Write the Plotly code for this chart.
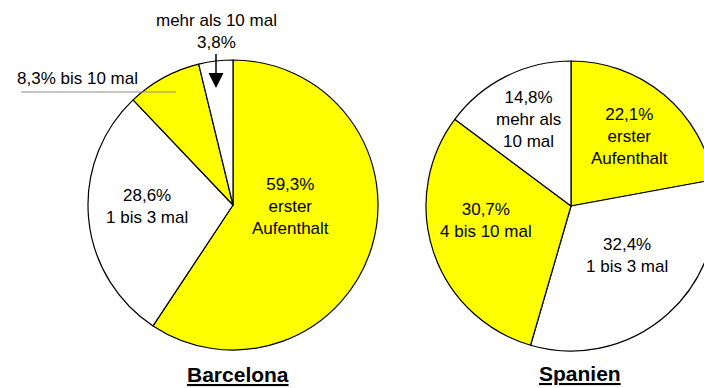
import plotly.graph_objects as go

# Anzahl der Aufenthalte – Anteile in %
categories = ["erster Aufenthalt", "1 bis 3 mal", "4 bis 10 mal", "mehr als 10 mal"]
barcelona_values = [59.3, 28.6, 8.3, 3.8]

spanien_categories = ["erster Aufenthalt", "1 bis 3 mal", "4 bis 10 mal", "mehr als 10 mal"]
spanien_values = [22.1, 32.4, 30.7, 14.8]

# Slice label texts (line breaks for display)
barcelona_text_names = ["erster<br>Aufenthalt", "1 bis 3 mal", "bis 10 mal", "mehr als 10 mal"]
spanien_text_names = ["erster<br>Aufenthalt", "1 bis 3 mal", "4 bis 10 mal", "mehr als<br>10 mal"]

titles = ["Barcelona", "Spanien"]

YELLOW = "#FFFF00"
WHITE = "#FFFFFF"
slice_colors = [YELLOW, WHITE, YELLOW, WHITE]

FONT = "Liberation Sans, Arial, sans-serif"
W, H = 720, 388  # canvas slightly wider than the view so the right pie runs off the edge

# label anchor points (pixels) for the slice labels drawn inside the pies
barcelona_label_pos = [(290, 206), (147, 206)]
spanien_label_pos = [(629, 136), (627, 255), (486, 220), (528, 119)]


def fx(px):
    return px / W


def fy(py):
    return 1 - py / H


def pct(v):
    return f"{v:.1f}".replace(".", ",") + "%"


def pie(values, labels, domain_px):
    x0, x1, y0, y1 = domain_px
    return go.Pie(
        values=values,
        labels=labels,
        textinfo="none",
        marker=dict(colors=slice_colors, line=dict(color="black", width=1.2)),
        sort=False,
        direction="clockwise",
        rotation=0,
        hoverinfo="skip",
        domain=dict(x=[fx(x0), fx(x1)], y=[fy(y1), fy(y0)]),
        showlegend=False,
    )


fig = go.Figure()
fig.add_trace(pie(barcelona_values, categories, (88, 378, 60, 350)))
fig.add_trace(pie(spanien_values, spanien_categories, (426, 716, 61, 351)))

label_font = dict(family=FONT, size=17, color="black")

annotations = []


def inside_label(value, name, pos):
    annotations.append(dict(
        x=fx(pos[0]), y=fy(pos[1]), xref="paper", yref="paper",
        xanchor="center", yanchor="middle",
        text=f"{pct(value)}<br>{name}", showarrow=False, font=label_font,
    ))


for v, n, p in zip(barcelona_values[:2], barcelona_text_names[:2], barcelona_label_pos):
    inside_label(v, n, p)
for v, n, p in zip(spanien_values, spanien_text_names, spanien_label_pos):
    inside_label(v, n, p)

annotations += [
    # small slice: mehr als 10 mal, with arrow
    dict(
        x=fx(216), y=fy(88), xref="paper", yref="paper",
        text=f"{barcelona_text_names[3]}<br>{pct(barcelona_values[3])}",
        showarrow=True, ax=0, ay=-56,
        arrowhead=2, arrowsize=2.0, arrowwidth=1.5, arrowcolor="black",
        font=label_font,
    ),
    # small slice: bis 10 mal, with gray leader line below
    dict(
        x=fx(15), y=fy(79), xref="paper", yref="paper",
        text=f"{pct(barcelona_values[2])} {barcelona_text_names[2]}",
        showarrow=False, xanchor="left", yanchor="middle",
        font=label_font,
    ),
    dict(
        x=fx(238), y=fy(374), xref="paper", yref="paper",
        xanchor="center", yanchor="middle",
        text=f"<b><u>{titles[0]}</u></b>", showarrow=False,
        font=dict(family=FONT, size=21, color="black"),
    ),
    dict(
        x=fx(580), y=fy(373), xref="paper", yref="paper",
        xanchor="center", yanchor="middle",
        text=f"<b><u>{titles[1]}</u></b>", showarrow=False,
        font=dict(family=FONT, size=21, color="black"),
    ),
]

shapes = [
    dict(type="line", xref="paper", yref="paper",
         x0=fx(21), x1=fx(176), y0=fy(92), y1=fy(92),
         line=dict(color="#8C8C8C", width=1.2)),
]

fig.update_layout(
    width=W, height=H,
    margin=dict(l=0, r=0, t=0, b=0),
    paper_bgcolor="white",
    plot_bgcolor="white",
    font=dict(family=FONT, size=17, color="black"),
    annotations=annotations,
    shapes=shapes,
    showlegend=False,
)

fig.write_html(
    "out.html",
    post_script="document.documentElement.style.overflow='hidden';document.body.style.overflow='hidden';",
)
